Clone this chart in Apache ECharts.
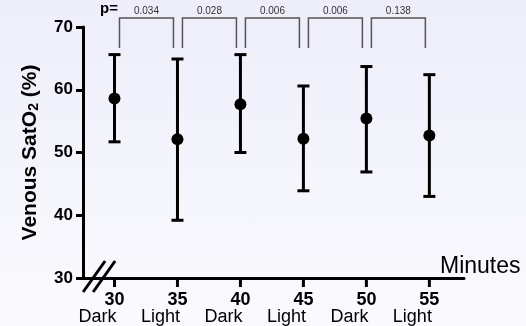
<!DOCTYPE html>
<html>
<head>
<meta charset="utf-8">
<script src="https://cdn.jsdelivr.net/npm/echarts@6/dist/echarts.min.js"></script>
<style>
  html, body { margin: 0; padding: 0; }
  body { background: linear-gradient(to bottom, #eeeefb, #fafafe); }
  #chart { width: 526px; height: 326px; }
</style>
</head>
<body>
<div id="chart"></div>
<script>
const minutes = [30, 35, 40, 45, 50, 55];
const phases = ["Dark", "Light", "Dark", "Light", "Dark", "Light"];
const means = [58.6, 52.1, 57.7, 52.2, 55.4, 52.7];
const upper = [65.6, 64.9, 65.6, 60.6, 63.7, 62.4];
const lower = [51.7, 39.2, 50.0, 43.9, 46.9, 43.0];
const pValues = ["0.034", "0.028", "0.006", "0.006", "0.138"];
const yTicks = [30, 40, 50, 60, 70];

const font = "'Liberation Sans', Arial, sans-serif";
const chart = echarts.init(document.getElementById("chart"));

const xMin = 27.5, xMax = 57.75;
// the Dark/Light captions sit about 17px left of their tick
const phaseShift = 1.35;

const option = {
  backgroundColor: "transparent",
  animation: false,
  grid: { left: 83, right: 62, top: 27, bottom: 47 },
  xAxis: [
    {
      type: "value",
      min: xMin,
      max: xMax,
      name: "Minutes",
      nameLocation: "end",
      nameGap: -24,
      nameTextStyle: { fontFamily: font, fontSize: 23, color: "#000", verticalAlign: "bottom" },
      axisLine: { lineStyle: { color: "#000", width: 3 } },
      axisTick: { show: false },
      axisLabel: {
        customValues: minutes,
        interval: 0,
        showMinLabel: true,
        showMaxLabel: true,
        margin: 13,
        fontFamily: font, fontSize: 18, fontWeight: "bold", color: "#000"
      },
      splitLine: { show: false }
    },
    {
      type: "value",
      position: "bottom",
      min: xMin + phaseShift,
      max: xMax + phaseShift,
      axisLine: { show: false },
      axisTick: { show: false },
      axisLabel: {
        customValues: minutes,
        interval: 0,
        showMinLabel: true,
        showMaxLabel: true,
        margin: 30,
        fontFamily: font, fontSize: 18, color: "#000",
        formatter: (v) => phases[minutes.indexOf(v)]
      },
      splitLine: { show: false }
    }
  ],
  yAxis: {
    type: "value",
    min: 30,
    max: 70,
    interval: 10,
    name: "Venous SatO{sub|2} (%)",
    nameLocation: "middle",
    nameGap: 42,
    nameTextStyle: {
      fontFamily: font, fontSize: 21, fontWeight: "bold", color: "#000",
      rich: {
        sub: { fontFamily: font, fontSize: 14, fontWeight: "bold", color: "#000", verticalAlign: "bottom", padding: [8, 0, 0, 0] }
      }
    },
    axisLine: { show: true, lineStyle: { color: "#000", width: 3 } },
    axisTick: { show: true, length: 7, lineStyle: { color: "#000", width: 3 } },
    axisLabel: {
      margin: 10,
      fontFamily: font, fontSize: 17, fontWeight: "bold", color: "#000",
      formatter: (v) => (yTicks.includes(v) ? String(v) : "")
    },
    splitLine: { show: false }
  },
  series: [
    {
      type: "custom",
      name: "errorBars",
      clip: false,
      data: minutes.map((m, i) => [m, lower[i], upper[i]]),
      renderItem: (params, api) => {
        const x = api.value(0);
        const lo = api.coord([x, api.value(1)]);
        const hi = api.coord([x, api.value(2)]);
        const base = api.coord([x, 30]);
        const cap = 6;
        const style = { stroke: "#000", lineWidth: 3 };
        return {
          type: "group",
          children: [
            { type: "line", shape: { x1: lo[0], y1: lo[1], x2: hi[0], y2: hi[1] }, style },
            { type: "line", shape: { x1: hi[0] - cap, y1: hi[1], x2: hi[0] + cap, y2: hi[1] }, style },
            { type: "line", shape: { x1: lo[0] - cap, y1: lo[1], x2: lo[0] + cap, y2: lo[1] }, style },
            // x-axis tick under each time point
            { type: "line", shape: { x1: base[0], y1: base[1], x2: base[0], y2: base[1] + 9 }, style }
          ]
        };
      },
      z: 2
    },
    {
      type: "scatter",
      name: "mean",
      data: minutes.map((m, i) => [m, means[i]]),
      symbol: "circle",
      symbolSize: 12,
      itemStyle: { color: "#000", opacity: 1 },
      z: 3
    },
    {
      type: "custom",
      name: "brackets",
      clip: false,
      data: pValues.map((p, i) => [minutes[i], minutes[i + 1], p]),
      renderItem: (params, api) => {
        const a = api.coord([api.value(0), 70]);
        const b = api.coord([api.value(1), 70]);
        const x1 = a[0] + 5, x2 = b[0] - 4;
        const yTop = a[1] - 9, yBot = a[1] + 21;
        const style = { stroke: "#555", lineWidth: 1.5, fill: "none" };
        return {
          type: "group",
          children: [
            { type: "polyline", shape: { points: [[x1, yBot], [x1, yTop], [x2, yTop], [x2, yBot]] }, style },
            {
              type: "text",
              style: {
                text: pValues[params.dataIndex],
                x: (x1 + x2) / 2, y: yTop - 2,
                align: "center", verticalAlign: "bottom",
                fontFamily: font, fontSize: 10, fill: "#333"
              }
            }
          ]
        };
      }
    }
  ]
};

chart.setOption(option);

// "p=" caption and the axis break mark near the origin
const o = chart.convertToPixel({ gridIndex: 0 }, [28.7, 30]);
const slash = { stroke: "#000", lineWidth: 3 };
chart.setOption({
  graphic: [
    {
      type: "text",
      left: 100,
      top: 1,
      style: { text: "p=", fontFamily: font, fontSize: 15, fontWeight: "bold", fill: "#000" }
    },
    { type: "line", shape: { x1: o[0] - 15, y1: o[1] + 14, x2: o[0] + 7, y2: o[1] - 17 }, style: slash },
    { type: "line", shape: { x1: o[0] - 5, y1: o[1] + 14, x2: o[0] + 17, y2: o[1] - 17 }, style: slash }
  ]
});
</script>
</body>
</html>
